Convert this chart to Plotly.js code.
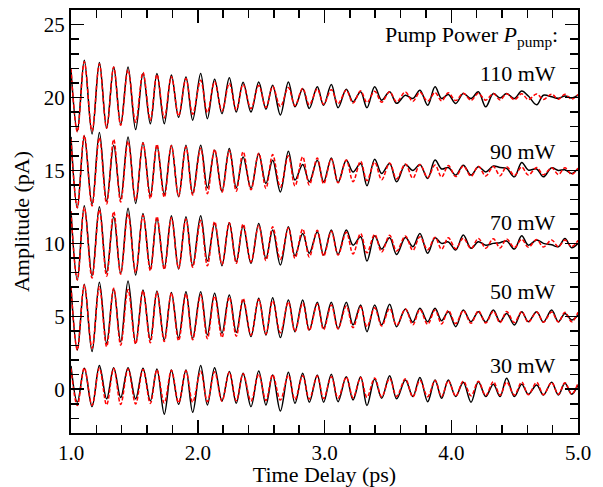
<!DOCTYPE html>
<html>
<head>
<meta charset="utf-8">
<script src="https://cdn.plot.ly/plotly-3.0.1.min.js"></script>
<style>html,body{margin:0;padding:0;background:#fff;}#chart{width:603px;height:487px;}</style>
</head>
<body>
<div id="chart"></div>
<script>
// Time of each extremum (ps), shared by all traces
const timeDelay = [1.000, 1.050, 1.105, 1.166, 1.224, 1.281, 1.337, 1.392, 1.450, 1.510,
  1.568, 1.626, 1.678, 1.736, 1.792, 1.849, 1.907, 1.960, 2.023, 2.076,
  2.133, 2.191, 2.249, 2.304, 2.358, 2.420, 2.481, 2.538, 2.591, 2.652,
  2.715, 2.767, 2.828, 2.880, 2.943, 2.993, 3.054, 3.107, 3.172, 3.225,
  3.285, 3.335, 3.396, 3.451, 3.514, 3.569, 3.638, 3.697, 3.753, 3.814,
  3.872, 3.924, 3.977, 4.035, 4.095, 4.156, 4.214, 4.272, 4.332, 4.385,
  4.437, 4.498, 4.556, 4.608, 4.674, 4.727, 4.792, 4.845, 4.897, 4.950, 5.000];

// Measured data (pA, offset by pump power)
const data110 = [21.9, 17.7, 22.55, 17.5, 22.4, 17.9, 22.1, 18.15, 22.1, 17.8,
  21.65, 18.2, 21.65, 18.2, 21.55, 18.65, 21.4, 18.45, 21.65, 18.55,
  21.25, 18.9, 21.35, 19.0, 21.05, 19.0, 21.07, 19.2, 20.84, 18.8,
  21.07, 19.36, 20.6, 19.25, 20.73, 19.47, 20.89, 19.3, 20.57, 19.7,
  20.4, 19.3, 20.73, 19.82, 20.4, 19.6, 20.16, 19.93, 20.5, 19.47,
  20.73, 19.93, 20.2, 19.59, 20.27, 19.93, 20.39, 19.36, 20.27, 19.97,
  20.27, 19.93, 20.45, 20.1, 19.5, 20.16, 20.05, 19.95, 20.1, 19.97, 20.16];
const data90 = [17.3, 12.44, 17.37, 12.67, 17.6, 12.9, 16.73, 13.03, 17.3, 12.74,
  16.92, 13.26, 16.69, 13.36, 16.73, 13.19, 16.73, 13.42, 16.73, 13.81,
  16.39, 13.58, 16.5, 13.81, 15.93, 13.77, 16.16, 14.11, 15.7, 13.53,
  16.32, 14.34, 15.41, 14.22, 15.7, 14.22, 15.86, 14.18, 15.7, 14.9,
  15.48, 13.95, 15.77, 14.79, 15.48, 14.22, 15.4, 15.0, 15.41, 14.45,
  15.71, 15.1, 15.2, 14.68, 15.36, 14.68, 15.25, 14.9, 15.3, 15.2,
  15.14, 14.56, 15.55, 15.02, 15.1, 14.56, 15.18, 15.0, 15.05, 14.79, 15.14];
const data70 = [12.2, 7.49, 12.58, 7.78, 12.51, 8.01, 11.82, 7.95, 12.4, 7.83,
  12.05, 8.24, 11.71, 8.29, 11.89, 8.24, 11.82, 8.47, 11.89, 8.79,
  11.37, 8.47, 11.42, 8.74, 11.2, 8.63, 11.37, 8.97, 10.91, 8.51,
  11.14, 9.15, 10.68, 9.32, 10.8, 9.2, 10.91, 9.24, 10.91, 9.88,
  10.45, 8.79, 10.52, 9.61, 10.38, 9.24, 10.4, 9.77, 10.68, 9.32,
  10.38, 10.0, 10.1, 9.54, 10.57, 9.66, 10.11, 9.88, 10.0, 10.05,
  10.16, 9.61, 10.52, 9.88, 10.23, 10.0, 9.9, 9.77, 10.34, 9.7, 10.0];
const data50 = [7.0, 2.69, 7.19, 2.58, 7.33, 3.15, 6.87, 3.26, 7.42, 3.15,
  6.80, 3.38, 6.73, 3.38, 6.64, 3.53, 6.69, 3.49, 6.69, 3.72,
  6.58, 3.84, 6.46, 3.90, 6.12, 3.61, 6.23, 3.72, 6.28, 3.54,
  6.12, 3.95, 6.12, 4.06, 5.96, 4.18, 5.96, 4.14, 5.96, 4.41,
  5.78, 3.95, 5.78, 4.41, 5.82, 4.29, 5.5, 4.60, 5.55, 4.63,
  5.55, 4.70, 5.32, 4.29, 5.43, 4.63, 5.32, 4.60, 5.43, 4.63,
  5.2, 4.41, 5.32, 4.63, 5.32, 4.60, 5.43, 4.63, 5.2, 4.75, 5.09];
const data30 = [1.6, -0.89, 1.44, -1.19, 1.62, -0.66, 1.48, -0.57, 1.48, -0.66,
  1.44, -0.8, 1.39, -1.71, 1.32, -1.03, 1.32, -1.58, 1.62, -1.08,
  1.48, -0.8, 1.21, -0.96, 1.10, -1.19, 1.25, -1.08, 0.98, -1.49,
  1.16, -0.96, 1.10, -0.89, 0.98, -0.89, 1.03, -0.85, 0.86, -0.73,
  0.86, -1.12, 0.71, -0.62, 0.93, -0.66, 0.64, -0.5, 0.80, -0.85,
  0.64, -0.62, 0.64, -0.5, 0.48, -0.89, 0.52, -0.5, 0.34, -0.5,
  0.75, -0.5, 0.34, -0.34, 0.29, -0.39, 0.48, -0.39, 0.41, -0.34, 0.3];

// Fitted curves (pA)
const fit110 = [22.0, 17.65, 22.45, 17.7, 22.3, 17.9, 22.1, 18.1, 21.9, 18.3,
  21.72, 18.45, 21.57, 18.6, 21.43, 18.74, 21.3, 18.86, 21.18, 18.97,
  21.08, 19.07, 20.98, 19.16, 20.9, 19.24, 20.82, 19.32, 20.75, 19.38,
  20.69, 19.44, 20.63, 19.5, 20.58, 19.54, 20.54, 19.58, 20.5, 19.62,
  20.46, 19.66, 20.43, 19.68, 20.4, 19.71, 20.38, 19.73, 20.36, 19.75,
  20.34, 19.77, 20.32, 19.79, 20.3, 19.8, 20.29, 19.82, 20.27, 19.83,
  20.26, 19.85, 20.25, 19.86, 20.24, 19.87, 20.23, 19.88, 20.22, 19.89, 20.2];
const fit90 = [17.15, 12.45, 17.4, 12.57, 17.25, 12.71, 17.13, 12.83, 17.0, 12.96,
  16.88, 13.07, 16.79, 13.16, 16.7, 13.24, 16.62, 13.32, 16.53, 13.41,
  16.44, 13.5, 16.36, 13.58, 16.28, 13.67, 16.18, 13.77, 16.09, 13.85,
  16.0, 13.93, 15.93, 14.01, 15.85, 14.08, 15.78, 14.15, 15.71, 14.23,
  15.63, 14.3, 15.57, 14.36, 15.51, 14.42, 15.45, 14.47, 15.41, 14.51,
  15.37, 14.55, 15.34, 14.58, 15.31, 14.6, 15.29, 14.62, 15.27, 14.64,
  15.25, 14.66, 15.23, 14.68, 15.21, 14.7, 15.19, 14.72, 15.18, 14.73, 15.16];
const fit70 = [12.2, 7.5, 12.45, 7.62, 12.3, 7.76, 12.18, 7.88, 12.05, 8.01,
  11.93, 8.12, 11.84, 8.21, 11.75, 8.29, 11.67, 8.37, 11.58, 8.46,
  11.49, 8.55, 11.41, 8.63, 11.33, 8.72, 11.23, 8.82, 11.14, 8.9,
  11.05, 8.98, 10.98, 9.06, 10.9, 9.13, 10.83, 9.2, 10.76, 9.28,
  10.68, 9.35, 10.62, 9.41, 10.56, 9.47, 10.5, 9.52, 10.46, 9.56,
  10.42, 9.6, 10.39, 9.63, 10.36, 9.65, 10.34, 9.67, 10.32, 9.69,
  10.3, 9.71, 10.28, 9.73, 10.26, 9.75, 10.24, 9.77, 10.23, 9.78, 10.21];
const fit50 = [7.05, 2.7, 7.15, 2.81, 7.03, 2.92, 6.93, 3.02, 6.83, 3.11,
  6.75, 3.19, 6.67, 3.27, 6.6, 3.33, 6.54, 3.39, 6.47, 3.47,
  6.39, 3.55, 6.31, 3.63, 6.23, 3.71, 6.15, 3.79, 6.07, 3.87,
  5.99, 3.95, 5.92, 4.02, 5.85, 4.08, 5.78, 4.15, 5.71, 4.22,
  5.65, 4.28, 5.59, 4.34, 5.54, 4.38, 5.5, 4.42, 5.47, 4.45,
  5.44, 4.48, 5.41, 4.5, 5.39, 4.52, 5.37, 4.54, 5.35, 4.56,
  5.33, 4.58, 5.32, 4.59, 5.3, 4.6, 5.29, 4.61, 5.28, 4.62, 5.27];
const fit30 = [1.43, -1.12, 1.47, -1.1, 1.45, -1.07, 1.42, -1.04, 1.39, -1.01,
  1.36, -0.98, 1.33, -0.95, 1.3, -0.92, 1.26, -0.89, 1.23, -0.85,
  1.2, -0.82, 1.16, -0.79, 1.07, -0.81, 1.03, -0.78, 1.0, -0.74,
  0.96, -0.71, 0.93, -0.67, 0.9, -0.64, 0.86, -0.61, 0.83, -0.58,
  0.8, -0.55, 0.77, -0.52, 0.74, -0.49, 0.72, -0.53, 0.62, -0.51,
  0.6, -0.49, 0.58, -0.47, 0.56, -0.45, 0.54, -0.43, 0.52, -0.41,
  0.5, -0.4, 0.49, -0.38, 0.47, -0.37, 0.46, -0.35, 0.45, -0.34, 0.43];

const powerLabels = ['110 mW', '90 mW', '70 mW', '50 mW', '30 mW'];
const labelY = [21.63, 16.3, 11.4, 6.73, 1.63];
const headerText = 'Pump Power <i>P</i><sub>pump</sub>:';
const headerY = 24.2;
const labelX = 4.845;

const dataSets = [data110, data90, data70, data50, data30];
const fitSets = [fit110, fit90, fit70, fit50, fit30];

const FONT = '"Liberation Serif", "Times New Roman", Times, serif';
const traces = [];
for (let i = 0; i < dataSets.length; i++) {
  traces.push({x: timeDelay, y: dataSets[i], type: 'scatter', mode: 'lines',
    line: {color: '#000000', width: 1.5, shape: 'spline', smoothing: 1},
    hoverinfo: 'skip', showlegend: false});
  traces.push({x: timeDelay, y: fitSets[i], type: 'scatter', mode: 'lines',
    line: {color: '#ff0000', width: 1.5, dash: '4px,2px', shape: 'spline', smoothing: 1},
    hoverinfo: 'skip', showlegend: false});
}

const annotations = powerLabels.map((t, i) => ({
  x: labelX, y: labelY[i], xref: 'x', yref: 'y', text: t, showarrow: false,
  xanchor: 'right', yanchor: 'middle', font: {family: FONT, size: 22, color: '#000'}
}));
annotations.push({x: labelX + 0.015, y: headerY, xref: 'x', yref: 'y', text: headerText,
  showarrow: false, xanchor: 'right', yanchor: 'middle',
  font: {family: FONT, size: 22, color: '#000'}});

const axisCommon = {
  showline: true, linewidth: 2, linecolor: '#000', mirror: 'allticks',
  ticks: 'inside', ticklen: 13, tickwidth: 1.5, tickcolor: '#000',
  showgrid: false, zeroline: false,
  tickfont: {family: FONT, size: 21, color: '#000'}
};

const layout = {
  width: 603, height: 487,
  margin: {l: 71, r: 25, t: 10, b: 54, pad: 0},
  paper_bgcolor: '#fff', plot_bgcolor: '#fff',
  font: {family: FONT, color: '#000'},
  xaxis: Object.assign({}, axisCommon, {
    range: [1, 5], tick0: 1, dtick: 1, tickformat: '.1f',
    minor: {dtick: 0.2, ticklen: 8, tickwidth: 1.5, ticks: 'inside', tickcolor: '#000'},
    title: {text: 'Time Delay (ps)', font: {family: FONT, size: 22, color: '#000'}, standoff: 6}
  }),
  yaxis: Object.assign({}, axisCommon, {
    range: [-3, 26], tick0: 0, dtick: 5,
    minor: {dtick: 1, ticklen: 8, tickwidth: 1.5, ticks: 'inside', tickcolor: '#000'},
    title: {text: 'Amplitude (pA)', font: {family: FONT, size: 22, color: '#000'}, standoff: 8}
  }),
  annotations: annotations
};

Plotly.newPlot('chart', traces, layout, {staticPlot: true, displayModeBar: false});
</script>
</body>
</html>
